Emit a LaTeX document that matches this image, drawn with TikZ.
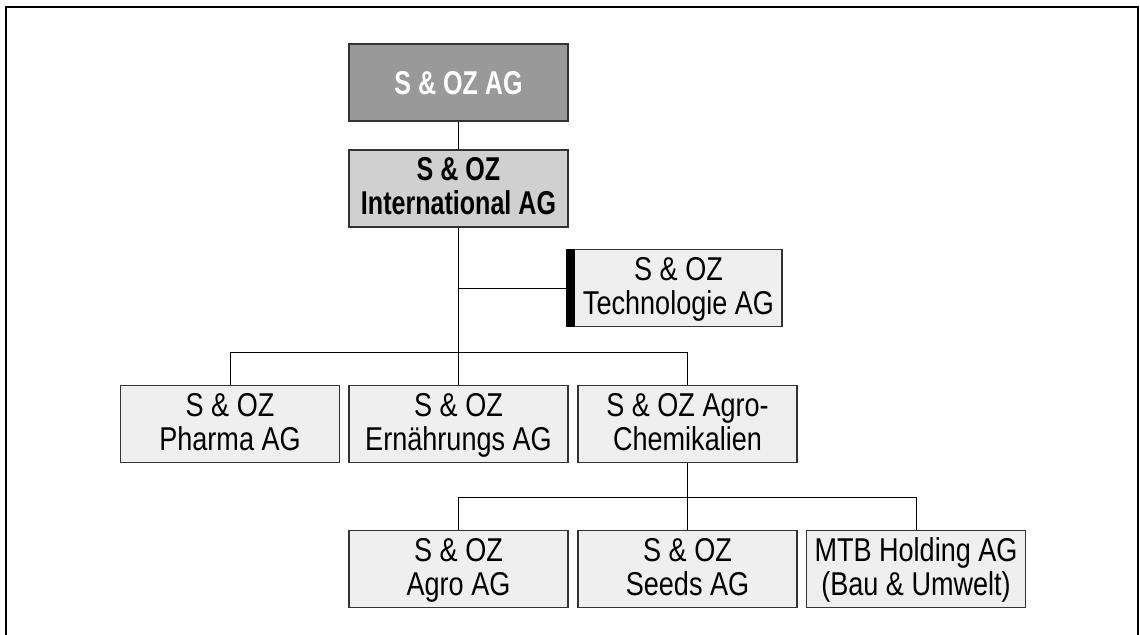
\documentclass[tikz,border=0pt]{standalone}
\usepackage{fontspec}
\setmainfont{Liberation Sans}[FakeStretch=0.82, BoldFeatures={FakeStretch=0.76}]
\usepackage{tikz}
\usepackage{xcolor}

\definecolor{holdgray}{HTML}{999999}
\definecolor{intlgray}{HTML}{D0D0D0}
\definecolor{unitgray}{HTML}{EFEFEF}
\definecolor{edgegray}{HTML}{333333}

\tikzset{
  unit/.style={draw=edgegray, line width=0.6pt, fill=unitgray, minimum width=109.5pt,
    minimum height=38.5pt, inner sep=0pt, align=center, text height=28.5pt, text depth=2.5pt,
    font=\fontsize{16.5}{17}\selectfont},
  holding/.style={unit, fill=holdgray, text=white, text height=11.5pt, text depth=0pt,
    font=\fontsize{16.5}{17}\selectfont\bfseries},
  intl/.style={unit, fill=intlgray, font=\fontsize{16.5}{17}\selectfont\bfseries},
  link/.style={line width=0.5pt}
}

\begin{document}
\begin{tikzpicture}[x=0.5pt,y=-0.5pt]
\useasboundingbox (0,0) rectangle (1140,634);
% frame
\draw[line width=1pt] (6,640) -- (6,7) -- (1138,7) -- (1138,640);

\node[holding] (sag) at (458.5,82.5) {S \& OZ AG};
\node[intl] (sint) at (458.5,188.5) {S \& OZ\\International AG};
\node[unit, minimum width=107.5pt] (tech) at (674.5,288) {\hspace{4pt}S \& OZ\\\hspace{4pt}Technologie AG};
\fill (tech.north west) rectangle ([xshift=4.5pt]tech.south west);

\node[unit] (pharma) at (230,424) {S \& OZ\\Pharma AG};
\node[unit] (ernaehr) at (458.5,424) {S \& OZ\\Ernährungs AG};
\node[unit] (chem) at (687.5,424) {S \& OZ Agro-\\Chemikalien};

\node[unit] (agro) at (458.5,569) {S \& OZ\\Agro AG};
\node[unit] (seeds) at (687.5,569) {S \& OZ\\Seeds AG};
\node[unit] (mtb) at (916,569) {MTB Holding AG\\(Bau \& Umwelt)};

\coordinate (bus1) at (458.5,352);
\coordinate (bus2) at (687.5,497);

% connectors
\draw[link] (sag) -- (sint);
\draw[link] (sint) -- (bus1);
\draw[link] (tech.west) -- (tech.west -| sint.south);
\draw[link] (pharma.north) |- (bus1) -| (chem.north);
\draw[link] (bus1) -- (ernaehr.north);
\draw[link] (chem) -- (bus2);
\draw[link] (agro.north) |- (bus2) -| (mtb.north);
\draw[link] (bus2) -- (seeds.north);
\end{tikzpicture}
\end{document}
